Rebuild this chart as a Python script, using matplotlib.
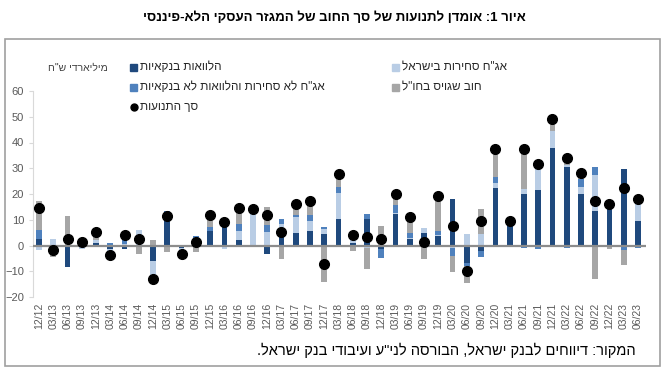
import re
import numpy as np
import matplotlib
matplotlib.use("Agg")
import matplotlib.pyplot as plt
from matplotlib.patches import Rectangle
from matplotlib.lines import Line2D


def rtl(s):
    # matplotlib has no bidi: flip the text, keep digit runs readable
    r = s[::-1]
    return re.sub(r"[0-9]+", lambda m: m.group(0)[::-1], r)


quarters = ["12/12", "03/13", "06/13", "09/13", "12/13", "03/14", "06/14", "09/14", "12/14",
            "03/15", "06/15", "09/15", "12/15", "03/16", "06/16", "09/16", "12/16",
            "03/17", "06/17", "09/17", "12/17", "03/18", "06/18", "09/18", "12/18",
            "03/19", "06/19", "09/19", "12/19", "03/20", "06/20", "09/20", "12/20",
            "03/21", "06/21", "09/21", "12/21", "03/22", "06/22", "09/22", "12/22",
            "03/23", "06/23"]

bank_loans = [2.7, -1.0, -8.3, 0.6, 1.0, -1.2, -1.3, 0.3, -6.2, 9.4, -0.8, 1.0, 5.5, 8.7,
              2.0, -0.6, -3.4, 3.2, 4.7, 5.6, 4.3, 10.1, 0.8, 10.1, -1.5, 12.3, 2.6, 4.7,
              3.6, 17.9, -6.8, -2.2, 22.5, 7.8, 19.9, 21.6, 37.7, 30.3, 20.1, 13.4, 14.7,
              29.9, 9.7]
tradable_bonds = [-1.8, 2.7, 0.0, -1.5, 1.3, -1.5, 0.6, 5.7, -6.5, 1.5, -1.0, 0.0, 0.0, -1.2,
                  3.5, 14.2, 5.3, 5.0, 6.5, 4.0, 2.0, 10.4, 2.5, -1.0, 0.3, 0.5, 0.5, 2.2,
                  0.5, -0.8, 4.3, 4.3, 1.6, 0.4, 1.9, 10.0, 6.9, 1.0, 2.7, 13.9, 0.8,
                  0.0, 6.9]
nontradable = [3.2, -0.5, 0.0, 0.9, 0.0, 0.9, 2.3, 0.0, -0.5, 2.6, -1.2, 2.8, 1.5, 0.0,
               3.0, 0.0, 2.7, 2.0, 0.8, 2.2, 1.0, 2.2, 0.5, 2.3, -3.3, 3.1, 1.7, 0.0,
               1.5, -3.4, -1.0, -2.3, 2.6, 0.3, -0.8, -1.5, 0.0, -1.0, 3.1, 3.0, -0.7,
               -1.6, -0.8]
foreign_debt = [11.3, -3.0, 11.4, 1.3, 3.0, -2.0, 1.0, -3.3, 2.2, -2.6, 0.0, -2.5, 5.0, 0.0,
                6.0, 0.0, 7.0, -5.3, 4.2, 5.3, -14.2, 3.6, -2.0, -8.0, 7.3, 3.8, 7.1, -5.2,
                13.6, -6.2, -6.7, 10.0, 10.8, 0.0, 15.6, 0.0, 3.0, 2.0, 1.2, -13.2, -0.8,
                -5.8, 0.0]
total = [14.4, -1.8, 2.7, 1.3, 5.3, -3.8, 3.9, 2.7, -12.9, 11.3, -3.3, 1.2, 12.0, 9.2,
         14.6, 14.2, 11.8, 5.3, 16.3, 17.3, -7.0, 27.9, 3.9, 3.2, 2.6, 20.1, 11.0, 1.4,
         19.2, 7.4, -10.0, 9.7, 37.4, 9.7, 37.4, 31.8, 49.0, 33.9, 28.3, 17.1, 16.2,
         22.5, 17.9]

series = [
    (bank_loans, "#1F497D", "הלוואות בנקאיות"),
    (tradable_bonds, "#B9CDE5", "אג\"ח סחירות בישראל"),
    (nontradable, "#4F81BD", "אג\"ח לא סחירות והלוואות לא בנקאיות"),
    (foreign_debt, "#A6A6A6", "חוב שגויס בחו\"ל"),
]

sans = ["Liberation Sans", "DejaVu Sans"]
plt.rcParams["font.family"] = sans

fig = plt.figure(figsize=(6.68, 3.84), dpi=100)
ax = fig.add_axes([33 / 668, 1 - 297 / 384, 613 / 668, 206 / 384])

x = np.arange(len(quarters))
pos = np.zeros(len(quarters))
neg = np.zeros(len(quarters))
for vals, color, label in series:
    v = np.array(vals)
    bottom = np.where(v >= 0, pos, neg)
    ax.bar(x, v, width=0.4, bottom=bottom, color=color, zorder=2)
    pos = pos + np.where(v >= 0, v, 0)
    neg = neg + np.where(v < 0, v, 0)

ax.axhline(0, color="#8C8C8C", lw=1.6, zorder=3)
ax.plot(x, total, "o", color="black", ms=7, zorder=4)

ax.set_ylim(-20, 60)
ax.set_yticks(range(-20, 61, 10))
ax.set_xlim(-0.42, len(quarters) - 1 + 0.56)
ax.set_xticks(x)
ax.set_xticklabels(quarters, rotation=90, fontsize=7.5, color="#595959")
ax.tick_params(axis="x", length=0, pad=4)
ax.tick_params(axis="y", labelsize=8, colors="#595959", length=3, color="#D9D9D9")
for s in ["top", "right", "bottom"]:
    ax.spines[s].set_visible(False)
ax.spines["left"].set_color("#D9D9D9")

# legend, drawn by hand in RTL layout (marker left of text)
legend_pos = [(130, 67), (392, 67), (130, 87), (392, 87)]
for (vals, color, label), (lx, ly) in zip(series, legend_pos):
    fig.patches.append(Rectangle((lx / 668, 1 - (ly + 3.5) / 384), 7 / 668, 7 / 384,
                                 transform=fig.transFigure, color=color))
    fig.text((lx + 10) / 668, 1 - ly / 384, rtl(label), fontsize=8.5, va="center",
             ha="left", color="#262626")
fig.lines.append(Line2D([133.5 / 668], [1 - 107 / 384], marker="o", color="black", ms=5,
                        transform=fig.transFigure))
fig.text(140 / 668, 1 - 107 / 384, rtl("סך התנועות"), fontsize=8.5, va="center",
         ha="left", color="#262626")

fig.text(108 / 668, 1 - 68 / 384, rtl("מיליארדי ש\"ח"), fontsize=7.5, va="center",
         ha="right", color="#404040")

fig.text(0.5, 1 - 18 / 384, rtl("איור 1: אומדן לתנועות של סך החוב של המגזר העסקי הלא-פיננסי"),
         fontsize=9.5, fontweight="bold", ha="center", va="center",
         family=["Liberation Sans", "DejaVu Sans"])
fig.text(636 / 668, 1 - 350 / 384, rtl("המקור: דיווחים לבנק ישראל, הבורסה לני\"ע ועיבודי בנק ישראל."),
         fontsize=10.5, ha="right", va="center", color="black")

fig.patches.append(Rectangle((5 / 668, 1 - 366 / 384), 655 / 668, 327 / 384,
                             transform=fig.transFigure, fill=False, ec="#A0A0A0", lw=1.2))

fig.savefig("out.png", dpi=100)
